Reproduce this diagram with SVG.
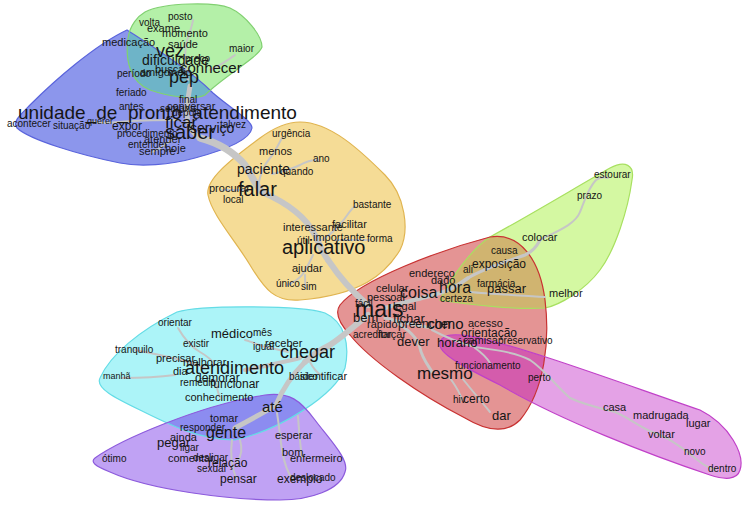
<svg xmlns="http://www.w3.org/2000/svg" width="750" height="505" viewBox="0 0 750 505">
<style>
text{font-family:"Liberation Sans",Arial,sans-serif;fill:#151515}
.e{fill:none;stroke:#c6c6c6;stroke-linecap:round;stroke-linejoin:round}
.w2{stroke-width:2}.w3{stroke-width:3}.w4{stroke-width:4}.w5{stroke-width:5}.w6{stroke-width:6}.w7{stroke-width:7}
.bs{fill:none;stroke-width:1.2}
.s9{font-size:9px}.s10{font-size:10px}.s11{font-size:11px}.s12{font-size:12px}.s13{font-size:13px}.s14{font-size:14px}.s15{font-size:15px}.s16{font-size:16px}.s17{font-size:17px}.s18{font-size:18px}.s19{font-size:19px}.s20{font-size:20px}.s23{font-size:23px}
</style>
<defs>
<path id="pGreen" d="M145,12 C165,2 215,2 230,8 C245,15 262,35 262,47 C258,58 225,75 205,95 C195,100 170,97 150,90 C130,82 125,60 128,38 C130,25 138,16 145,12 Z"/>
<path id="pBlue" d="M127,30 C150,45 190,70 213,93 C230,108 252,120 252,128 C250,140 225,150 195,158 C170,165 140,167 120,163 C80,155 30,140 17,128 C12,122 20,115 30,105 C55,80 95,45 127,30 Z"/>
<path id="pYellow" d="M300,122 C330,122 360,150 385,175 C405,195 410,230 400,250 C385,275 360,295 300,300 C275,302 265,290 250,265 C235,240 212,215 208,195 C205,180 230,160 260,138 C275,127 290,122 300,122 Z"/>
<path id="pLime" d="M490,237 C530,215 580,185 610,168 C625,160 635,165 632,180 C628,210 615,250 600,270 C585,290 560,305 545,308 C520,310 470,305 440,300 C450,280 470,250 490,237 Z"/>
<path id="pRed" d="M340,305 C360,280 440,250 490,237 C520,232 540,260 545,300 C550,340 545,390 520,420 C505,435 485,430 465,418 C420,395 370,360 350,335 C338,322 335,312 340,305 Z"/>
<path id="pMag" d="M440,345 C440,335 450,333 470,336 C520,345 640,390 700,410 C730,425 745,455 740,470 C737,480 725,480 710,475 C650,455 560,420 500,385 C470,370 440,355 440,345 Z"/>
<path id="pCyan" d="M100,378 C110,355 140,330 177,312 C200,305 300,305 325,313 C345,322 350,345 345,368 C335,395 280,430 235,440 C200,440 170,425 140,410 C115,398 95,388 100,378 Z"/>
<path id="pPurple" d="M95,458 C120,440 200,405 265,395 C290,392 300,400 315,420 C330,440 350,460 345,472 C340,490 310,500 280,500 C230,500 150,490 110,472 C95,466 90,462 95,458 Z"/>
<clipPath id="cBlue"><use href="#pBlue"/></clipPath>
<clipPath id="cRed"><use href="#pRed"/></clipPath>
<clipPath id="cCyan"><use href="#pCyan"/></clipPath>
</defs>
<g id="clusters">
<use href="#pBlue" fill="#8c96ec"/>
<use href="#pGreen" fill="#b4f0a8"/>
<use href="#pGreen" fill="#6eb4c8" clip-path="url(#cBlue)"/>
<use href="#pYellow" fill="#f5dc96"/>
<use href="#pLime" fill="#d4f8a2"/>
<use href="#pRed" fill="#e49494"/>
<use href="#pLime" fill="#d0b470" clip-path="url(#cRed)"/>
<use href="#pMag" fill="#e4a2e6"/>
<use href="#pMag" fill="#d45cac" clip-path="url(#cRed)"/>
<use href="#pCyan" fill="#acf4f8"/>
<use href="#pPurple" fill="#c0a2f4"/>
<use href="#pPurple" fill="#8c8cf0" clip-path="url(#cCyan)"/>
<use href="#pBlue" class="bs" stroke="#5a64dc"/>
<use href="#pGreen" class="bs" stroke="#80d070"/>
<use href="#pYellow" class="bs" stroke="#e0b450"/>
<use href="#pLime" class="bs" stroke="#a8e060"/>
<use href="#pRed" class="bs" stroke="#c83232"/>
<use href="#pMag" class="bs" stroke="#c040c8"/>
<use href="#pCyan" class="bs" stroke="#64dce6"/>
<use href="#pPurple" class="bs" stroke="#8c5adc"/>
</g>
<g id="edges">
<path class="e w5" d="M190,86 C188,100 185,110 188,122 C190,130 195,135 200,138"/>
<path class="e w7" d="M200,138 C215,142 232,150 245,165 C252,175 255,185 262,192"/>
<path class="e w6" d="M262,192 C285,202 305,215 315,235 C320,245 322,252 328,260"/>
<path class="e w6" d="M328,260 C338,275 350,290 368,305"/>
<path class="e w6" d="M368,315 C355,325 345,335 330,345 C320,350 312,355 305,362"/>
<path class="e w5" d="M305,362 C292,375 282,390 276,405"/>
<path class="e w5" d="M276,405 C265,412 250,420 235,428"/>
<path class="e w4" d="M300,358 C285,362 265,366 245,370"/>
<path class="e w4" d="M385,308 C400,303 415,300 430,296 C445,292 455,288 468,278"/>
<path class="e w3" d="M468,278 C485,268 505,262 525,255 C532,252 537,246 540,240"/>
<path class="e w2" d="M540,240 C555,232 575,225 580,212 C585,200 588,188 596,180 C600,177 605,177 608,178"/>
<path class="e w2" d="M470,292 C490,294 515,295 545,297"/>
<path class="e w3" d="M385,318 C400,322 415,325 432,328"/>
<path class="e w2" d="M432,330 C445,337 460,343 475,347 C495,350 515,352 530,360 C545,370 555,385 570,398 C585,405 600,408 615,412 C630,418 640,428 655,433 C670,438 685,450 700,462 C705,466 710,468 715,470"/>
<path class="e w2" d="M475,348 C482,353 487,358 490,363"/>
<path class="e w3" d="M395,322 C410,330 418,340 420,348 C422,358 428,365 432,372"/>
<path class="e w2" d="M450,378 C455,385 460,392 462,400"/>
<path class="e w2" d="M462,378 C470,388 480,400 490,412"/>
<path class="e w2" d="M188,80 C186,70 184,58 186,45 C188,35 192,28 193,20"/>
<path class="e w2" d="M210,70 C220,66 228,60 235,55"/>
<path class="e w2" d="M178,120 C160,120 140,120 120,122 C110,123 100,123 92,122"/>
<path class="e w2" d="M172,140 C165,145 158,150 152,152"/>
<path class="e w2" d="M258,186 C260,175 264,165 270,158 C275,152 278,145 282,138"/>
<path class="e w2" d="M272,174 C280,172 290,170 300,165 C305,162 310,160 318,160"/>
<path class="e w2" d="M248,190 C240,190 230,190 222,190"/>
<path class="e w2" d="M322,240 C330,235 337,228 342,222 C347,216 350,210 355,206"/>
<path class="e w2" d="M335,240 C350,240 360,240 370,240"/>
<path class="e w2" d="M313,255 C310,262 307,268 302,275 C298,280 292,283 287,285"/>
<path class="e w2" d="M305,275 C305,280 305,284 306,288"/>
<path class="e w2" d="M205,368 C190,362 175,358 155,354 C145,352 140,351 135,350"/>
<path class="e w2" d="M178,328 C182,335 188,345 200,352 C207,356 212,360 215,365"/>
<path class="e w2" d="M288,352 C280,350 272,348 265,347 C258,345 252,342 245,340"/>
<path class="e w2" d="M310,362 C313,368 316,372 322,376"/>
<path class="e w2" d="M175,375 C160,377 140,378 122,378"/>
<path class="e w2" d="M215,380 C217,388 218,393 220,398"/>
<path class="e w2" d="M277,413 C279,425 280,437 282,450 C284,462 287,472 293,480"/>
<path class="e w2" d="M298,416 C299,430 300,445 302,457"/>
<path class="e w2" d="M232,440 C230,455 232,468 236,478"/>
<path class="e w2" d="M240,440 C243,450 240,458 237,462"/>
</g>
<g id="n-posto"><text class="s10" x="168" y="20">posto</text></g>
<g id="n-volta"><text class="s10" x="139" y="26">volta</text></g>
<g id="n-exame"><text class="s11" x="147" y="32">exame</text></g>
<g id="n-momento"><text class="s11" x="162" y="37">momento</text></g>
<g id="n-saude"><text class="s11" x="168" y="48">saúde</text></g>
<g id="n-maior"><text class="s10" x="229" y="52">maior</text></g>
<g id="n-medicacao"><text class="s11" x="102" y="46">medicação</text></g>
<g id="n-vez"><text class="s18" x="156" y="57">vez</text></g>
<g id="n-preco"><text class="s10" x="185" y="62">preço</text></g>
<g id="n-busca"><text class="s11" x="155" y="73">busca</text></g>
<g id="n-amigo"><text class="s11" x="140" y="76">amigo</text></g>
<g id="n-meio"><text class="s11" x="168" y="76">meio</text></g>
<g id="n-periodo"><text class="s10" x="117" y="77">período</text></g>
<g id="n-dificuldade"><text class="s14" x="142" y="65">dificuldade</text></g>
<g id="n-conhecer"><text class="s15" x="180" y="73">conhecer</text></g>
<g id="n-pep"><text class="s18" x="169" y="83">pep</text></g>
<g id="n-feriado"><text class="s10" x="116" y="96">feriado</text></g>
<g id="n-final"><text class="s10" x="179" y="103">final</text></g>
<g id="n-antes"><text class="s10" x="119" y="110">antes</text></g>
<g id="n-semana"><text class="s10" x="160" y="112">semana</text></g>
<g id="n-depois"><text class="s10" x="172" y="116">depois</text></g>
<g id="n-conversar"><text class="s11" x="167" y="110">conversar</text></g>
<g id="n-unidade"><text class="s19" x="18" y="119">unidade_de_pronto_atendimento</text></g>
<g id="n-acontecer"><text class="s10" x="7" y="127">acontecer</text></g>
<g id="n-situacao"><text class="s10" x="53" y="129">situação</text></g>
<g id="n-querer"><text class="s9" x="87" y="124">querer</text></g>
<g id="n-expor"><text class="s12" x="112" y="130">expor</text></g>
<g id="n-talvez"><text class="s10" x="220" y="128">talvez</text></g>
<g id="n-ficar"><text class="s17" x="165" y="128">ficar</text></g>
<g id="n-servico"><text class="s14" x="190" y="133">serviço</text></g>
<g id="n-procedimento"><text class="s10" x="117" y="137">procedimento</text></g>
<g id="n-saber"><text class="s20" x="165" y="139">saber</text></g>
<g id="n-atender"><text class="s11" x="144" y="143">atender</text></g>
<g id="n-entender"><text class="s10" x="128" y="148">entender</text></g>
<g id="n-hoje"><text class="s11" x="165" y="152">hoje</text></g>
<g id="n-sempre"><text class="s11" x="139" y="155">sempre</text></g>
<g id="n-urgencia"><text class="s10" x="272" y="137">urgência</text></g>
<g id="n-menos"><text class="s11" x="259" y="155">menos</text></g>
<g id="n-ano"><text class="s10" x="313" y="162">ano</text></g>
<g id="n-quando"><text class="s10" x="280" y="175">quando</text></g>
<g id="n-paciente"><text class="s14" x="237" y="174">paciente</text></g>
<g id="n-procurar"><text class="s11" x="209" y="192">procurar</text></g>
<g id="n-falar"><text class="s20" x="238" y="196">falar</text></g>
<g id="n-local"><text class="s10" x="223" y="203">local</text></g>
<g id="n-bastante"><text class="s10" x="353" y="208">bastante</text></g>
<g id="n-interessante"><text class="s11" x="283" y="231">interessante</text></g>
<g id="n-facilitar"><text class="s11" x="332" y="228">facilitar</text></g>
<g id="n-importante"><text class="s11" x="313" y="241">importante</text></g>
<g id="n-forma"><text class="s10" x="367" y="242">forma</text></g>
<g id="n-util"><text class="s10" x="297" y="244">útil</text></g>
<g id="n-aplicativo"><text class="s20" x="282" y="254">aplicativo</text></g>
<g id="n-ajudar"><text class="s11" x="292" y="272">ajudar</text></g>
<g id="n-unico"><text class="s10" x="276" y="287">único</text></g>
<g id="n-sim"><text class="s10" x="301" y="290">sim</text></g>
<g id="n-estourar"><text class="s10" x="594" y="178">estourar</text></g>
<g id="n-prazo"><text class="s10" x="577" y="199">prazo</text></g>
<g id="n-colocar"><text class="s11" x="522" y="241">colocar</text></g>
<g id="n-causa"><text class="s10" x="491" y="254">causa</text></g>
<g id="n-exposicao"><text class="s12" x="472" y="268">exposição</text></g>
<g id="n-ali"><text class="s10" x="463" y="273">ali</text></g>
<g id="n-endereco"><text class="s11" x="409" y="277">endereço</text></g>
<g id="n-dado"><text class="s11" x="431" y="284">dado</text></g>
<g id="n-farmacia"><text class="s10" x="477" y="287">farmácia</text></g>
<g id="n-celular"><text class="s11" x="376" y="292">celular</text></g>
<g id="n-hora"><text class="s16" x="439" y="293">hora</text></g>
<g id="n-passar"><text class="s13" x="487" y="293">passar</text></g>
<g id="n-melhor"><text class="s11" x="549" y="297">melhor</text></g>
<g id="n-pessoal"><text class="s11" x="367" y="301">pessoal</text></g>
<g id="n-coisa"><text class="s16" x="400" y="298">coisa</text></g>
<g id="n-certeza"><text class="s10" x="440" y="302">certeza</text></g>
<g id="n-facil"><text class="s10" x="355" y="307">fácil</text></g>
<g id="n-legal"><text class="s11" x="393" y="310">legal</text></g>
<g id="n-mais"><text class="s23" x="355" y="317">mais</text></g>
<g id="n-bem"><text class="s13" x="353" y="322">bem</text></g>
<g id="n-fichar"><text class="s13" x="393" y="323">fichar</text></g>
<g id="n-rapido"><text class="s11" x="367" y="328">rápido</text></g>
<g id="n-preencher"><text class="s12" x="398" y="328">preencher</text></g>
<g id="n-como"><text class="s15" x="427" y="329">como</text></g>
<g id="n-acesso"><text class="s11" x="468" y="327">acesso</text></g>
<g id="n-orientacao"><text class="s12" x="461" y="337">orientação</text></g>
<g id="n-acreditar"><text class="s10" x="353" y="338">acreditar</text></g>
<g id="n-forcar"><text class="s11" x="378" y="338">forçar</text></g>
<g id="n-dever"><text class="s13" x="397" y="346">dever</text></g>
<g id="n-camisa"><text class="s11" x="463" y="344">camisa</text></g>
<g id="n-preservativo"><text class="s10" x="498" y="344">preservativo</text></g>
<g id="n-horario"><text class="s13" x="437" y="347">horário</text></g>
<g id="n-funcionamento"><text class="s10" x="455" y="369">funcionamento</text></g>
<g id="n-mesmo"><text class="s17" x="417" y="379">mesmo</text></g>
<g id="n-perto"><text class="s10" x="528" y="381">perto</text></g>
<g id="n-hiv"><text class="s10" x="453" y="403">hiv</text></g>
<g id="n-certo"><text class="s12" x="463" y="403">certo</text></g>
<g id="n-dar"><text class="s13" x="492" y="420">dar</text></g>
<g id="n-casa"><text class="s11" x="603" y="411">casa</text></g>
<g id="n-madrugada"><text class="s11" x="633" y="419">madrugada</text></g>
<g id="n-lugar"><text class="s11" x="686" y="427">lugar</text></g>
<g id="n-voltar"><text class="s11" x="648" y="438">voltar</text></g>
<g id="n-novo"><text class="s10" x="684" y="455">novo</text></g>
<g id="n-dentro"><text class="s10" x="708" y="472">dentro</text></g>
<g id="n-orientar"><text class="s10" x="158" y="326">orientar</text></g>
<g id="n-medico"><text class="s13" x="211" y="338">médico</text></g>
<g id="n-mes"><text class="s10" x="253" y="336">mês</text></g>
<g id="n-existir"><text class="s10" x="183" y="347">existir</text></g>
<g id="n-igual"><text class="s10" x="253" y="350">igual</text></g>
<g id="n-receber"><text class="s11" x="265" y="347">receber</text></g>
<g id="n-tranquilo"><text class="s10" x="115" y="353">tranquilo</text></g>
<g id="n-chegar"><text class="s18" x="280" y="358">chegar</text></g>
<g id="n-precisar"><text class="s11" x="156" y="362">precisar</text></g>
<g id="n-melhorar"><text class="s11" x="183" y="366">melhorar</text></g>
<g id="n-dia"><text class="s11" x="173" y="375">dia</text></g>
<g id="n-atendimento"><text class="s18" x="185" y="374">atendimento</text></g>
<g id="n-manha"><text class="s9" x="103" y="379">manhã</text></g>
<g id="n-basico"><text class="s10" x="289" y="380">básico</text></g>
<g id="n-identificar"><text class="s11" x="300" y="380">identificar</text></g>
<g id="n-demorar"><text class="s12" x="195" y="382">demorar</text></g>
<g id="n-remedio"><text class="s10" x="180" y="386">remédio</text></g>
<g id="n-funcionar"><text class="s12" x="210" y="388">funcionar</text></g>
<g id="n-conhecimento"><text class="s11" x="185" y="401">conhecimento</text></g>
<g id="n-ate"><text class="s15" x="262" y="412">até</text></g>
<g id="n-tomar"><text class="s11" x="210" y="422">tomar</text></g>
<g id="n-responder"><text class="s10" x="180" y="431">responder</text></g>
<g id="n-gente"><text class="s16" x="206" y="438">gente</text></g>
<g id="n-ainda"><text class="s11" x="170" y="441">ainda</text></g>
<g id="n-esperar"><text class="s11" x="275" y="439">esperar</text></g>
<g id="n-pegar"><text class="s13" x="157" y="447">pegar</text></g>
<g id="n-ligar"><text class="s10" x="180" y="451">ligar</text></g>
<g id="n-bom"><text class="s11" x="282" y="456">bom</text></g>
<g id="n-enfermeiro"><text class="s11" x="290" y="462">enfermeiro</text></g>
<g id="n-otimo"><text class="s10" x="102" y="462">ótimo</text></g>
<g id="n-desligar"><text class="s10" x="193" y="461">desligar</text></g>
<g id="n-comentar"><text class="s11" x="168" y="462">comentar</text></g>
<g id="n-relacao"><text class="s12" x="208" y="467">relação</text></g>
<g id="n-sexual"><text class="s10" x="197" y="472">sexual</text></g>
<g id="n-pensar"><text class="s12" x="220" y="483">pensar</text></g>
<g id="n-deslocado"><text class="s10" x="290" y="481">deslocado</text></g>
<g id="n-exemplo"><text class="s12" x="277" y="483">exemplo</text></g>
</svg>
